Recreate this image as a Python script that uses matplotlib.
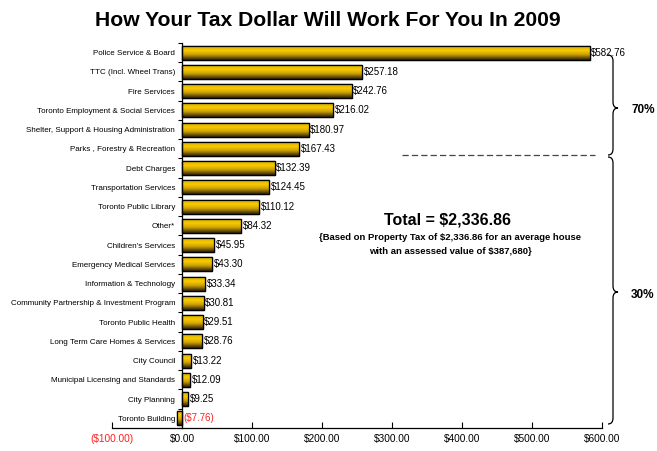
import numpy as np
import matplotlib
matplotlib.use("Agg")
from matplotlib import pyplot as plt
from matplotlib.path import Path
from matplotlib.patches import PathPatch
from matplotlib.colors import LinearSegmentedColormap

plt.rcParams['font.family'] = ['Liberation Sans', 'DejaVu Sans']

categories = ["Police Service & Board", "TTC (Incl. Wheel Trans)", "Fire Services",
              "Toronto Employment & Social Services", "Shelter, Support & Housing Administration",
              "Parks , Forestry & Recreation", "Debt Charges", "Transportation Services",
              "Toronto Public Library", "Other*", "Children's Services",
              "Emergency Medical Services", "Information & Technology",
              "Community Partnership & Investment Program", "Toronto Public Health",
              "Long Term Care Homes & Services", "City Council",
              "Municipal Licensing and Standards", "City Planning", "Toronto Building"]
values = [582.76, 257.18, 242.76, 216.02, 180.97, 167.43, 132.39, 124.45, 110.12, 84.32,
          45.95, 43.30, 33.34, 30.81, 29.51, 28.76, 13.22, 12.09, 9.25, -7.76]
xticks = [-100, 0, 100, 200, 300, 400, 500, 600]

W, H = 657, 451
fig = plt.figure(figsize=(W / 100, H / 100), dpi=100)
ax = fig.add_axes([112 / W, 1 - 428 / H, 490 / W, 385 / H])

ypos = np.arange(len(categories))
bars = ax.barh(ypos, values, height=0.72, color='#e8b800', edgecolor='black', linewidth=0.9, zorder=2)

# vertical gradient inside each bar (gold on top, dark at the bottom)
grad_cmap = LinearSegmentedColormap.from_list('gold', [(0.0, '#d8aa00'), (0.3, '#f8cc00'),
                                                      (0.6, '#cfa200'), (1.0, '#2a2000')])
grad = np.linspace(0, 1, 64).reshape(-1, 1)
for b in bars:
    x0, y0 = b.get_x(), b.get_y()
    w, h = b.get_width(), b.get_height()
    im = ax.imshow(grad, cmap=grad_cmap, aspect='auto', origin='upper',
                   extent=[x0, x0 + w, y0 + h, y0], zorder=2.5)
    im.set_clip_path(b)
    ax.add_patch(plt.Rectangle((x0, y0), w, h, fill=False, edgecolor='black', linewidth=0.9, zorder=3))

for y, v in zip(ypos, values):
    if v < 0:
        lab = "(${:,.2f})".format(-v)
        col = '#ff2020'
    else:
        lab = "${:,.2f}".format(v)
        col = 'black'
    ax.text(max(v, 0) + 2, y, lab, va='center', ha='left', fontsize=7, color=col, zorder=4)

ax.set_xlim(-100, 600)
ax.set_ylim(len(categories) - 0.5, -0.5)

ax.spines['top'].set_visible(False)
ax.spines['right'].set_visible(False)
ax.spines['left'].set_position(('data', 0))
ax.spines['left'].set_linewidth(0.9)
ax.spines['bottom'].set_linewidth(0.9)

ax.set_yticks(ypos)
ax.set_yticklabels(categories, fontsize=5.8)
ax.set_yticks(np.arange(-0.5, len(categories), 1), minor=True)
ax.tick_params(axis='y', which='major', length=0, pad=5)
ax.tick_params(axis='y', which='minor', length=3, direction='out', width=0.8)

ax.set_xticks(xticks)
xlabels = ["(${:,.2f})".format(-t) if t < 0 else "${:,.2f}".format(t) for t in xticks]
ax.set_xticklabels(xlabels, fontsize=7.3)
ax.tick_params(axis='x', direction='in', length=4, width=0.8, pad=4)
ax.get_xticklabels()[0].set_color('#ff2020')

# title
fig.text(328 / W, 1 - 20 / H, "How Your Tax Dollar Will Work For You In 2009",
         ha='center', va='center', fontsize=15.2, fontweight='bold')

# total annotation
fig.text(447 / W, 1 - 220 / H, "Total = $2,336.86", ha='center', va='center',
         fontsize=11.5, fontweight='bold')
fig.text(450 / W, 1 - 237 / H, "{Based on Property Tax of $2,336.86 for an average house",
         ha='center', va='center', fontsize=6.8, fontweight='bold')
fig.text(450 / W, 1 - 251 / H, "with an assessed value of $387,680}",
         ha='center', va='center', fontsize=6.8, fontweight='bold')

# dashed separator
fig.add_artist(plt.Line2D([402 / W, 595 / W], [1 - 155 / H, 1 - 155 / H], color='#444444',
                          linewidth=0.9, linestyle=(0, (5, 2.5)), transform=fig.transFigure))


def brace(x0, ytop, ybot, ytip, width):
    # curly brace opening to the left, tip pointing right, in pixel coords
    xm = x0 + width * 0.5
    xt = x0 + width
    r = 6
    verts = [(x0, ytop), (xm, ytop), (xm, ytop + r),
             (xm, ytip - r), (xm, ytip), (xt, ytip),
             (xm, ytip), (xm, ytip + r),
             (xm, ybot - r), (xm, ybot), (x0, ybot)]
    codes = [Path.MOVETO, Path.CURVE3, Path.CURVE3,
             Path.LINETO, Path.CURVE3, Path.CURVE3,
             Path.CURVE3, Path.CURVE3,
             Path.LINETO, Path.CURVE3, Path.CURVE3]
    verts = [(vx / W, 1 - vy / H) for vx, vy in verts]
    p = PathPatch(Path(verts, codes), fill=False, edgecolor='black', linewidth=0.9,
                  transform=fig.transFigure)
    fig.add_artist(p)


brace(608, 55, 155, 108, 10)
brace(608, 157, 424, 292, 10)
fig.text(643 / W, 1 - 110 / H, "70%", ha='center', va='center', fontsize=8.5, fontweight='bold')
fig.text(643 / W, 1 - 295 / H, "30%", ha='center', va='center', fontsize=8.5, fontweight='bold')

fig.savefig("out.png", dpi=100)
